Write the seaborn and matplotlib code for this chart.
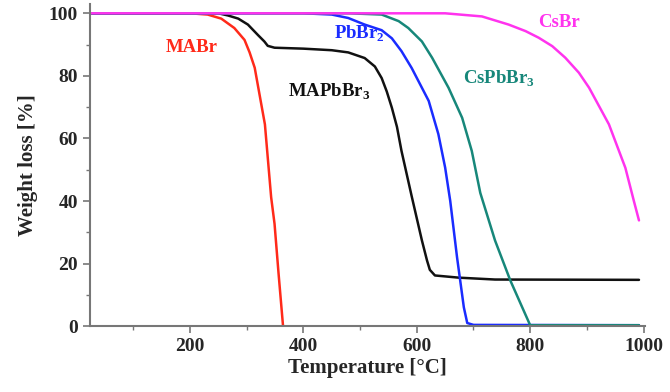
import numpy as np
import pandas as pd
import matplotlib
matplotlib.use("Agg")
import matplotlib.pyplot as plt
from matplotlib.ticker import MultipleLocator
import seaborn as sns

# TGA curves
mabr_t = [25, 200, 231, 255, 278, 296, 305, 314, 332, 343, 349, 356, 364]
mabr_w = [100, 100, 99.6, 98.3, 95.3, 91.5, 87.5, 82.6, 64.5, 41.2, 32.7, 17.0, 0]

mapbbr3_t = [25, 250, 267, 285, 302, 320, 331, 337, 349, 400, 450, 479, 508, 526, 538,
             547, 556, 565, 573, 591, 609, 618, 623, 632, 674, 738, 992]
mapbbr3_w = [100, 100, 99.3, 98.3, 96.4, 93.0, 91.0, 89.6, 89.0, 88.7, 88.2, 87.5,
             85.7, 83.0, 79.3, 75.0, 69.8, 63.7, 56.0, 41.5, 27.4, 21.0, 18.0, 16.2,
             15.5, 14.9, 14.8]

pbbr2_t = [25, 400, 450, 479, 508, 538, 556, 573, 591, 621, 638, 650, 659, 671, 683,
           689, 700, 992]
pbbr2_w = [100, 100, 99.6, 98.5, 96.4, 94.6, 92.0, 87.9, 82.5, 72.0, 61.4, 50.7, 40.0,
           22.0, 6.0, 1.0, 0.4, 0.3]

cspbbr3_t = [25, 480, 538, 568, 585, 609, 627, 656, 680, 697, 712, 738, 765, 800, 992]
cspbbr3_w = [100, 100, 99.6, 97.5, 95.3, 91.0, 85.8, 76.2, 66.6, 56.0, 42.6, 27.4,
             14.6, 0.3, 0.3]

csbr_t = [25, 650, 715, 762, 792, 815, 839, 862, 886, 904, 939, 968, 983, 992]
csbr_w = [100, 100, 99.0, 96.4, 94.3, 92.2, 89.5, 85.8, 81.0, 76.2, 64.5, 50.6, 40.0,
          33.8]

names = ["MABr", "MAPbBr3", "PbBr2", "CsPbBr3", "CsBr"]
colors = ["#ff2a1a", "#111111", "#1a2cff", "#17877a", "#ff33ee"]

frames = []
for name, t, w in zip(names,
                      [mabr_t, mapbbr3_t, pbbr2_t, cspbbr3_t, csbr_t],
                      [mabr_w, mapbbr3_w, pbbr2_w, cspbbr3_w, csbr_w]):
    frames.append(pd.DataFrame({"T": t, "W": w, "sample": name}))
df = pd.concat(frames, ignore_index=True)

sns.set_style("ticks")
plt.rcParams["font.family"] = ["Liberation Serif", "DejaVu Serif"]
plt.rcParams["mathtext.fontset"] = "custom"
plt.rcParams["mathtext.rm"] = "Liberation Serif:bold"
plt.rcParams["mathtext.bf"] = "Liberation Serif:bold"

fig = plt.figure(figsize=(6.7, 3.92), dpi=100)
ax = fig.add_axes([0.134, 0.168, 0.829, 0.822])

sns.lineplot(data=df, x="T", y="W", hue="sample", palette=dict(zip(names, colors)),
             sort=False, estimator=None, lw=1.8, legend=False, ax=ax)

ax.set_xlim(23, 1003)
ax.set_ylim(0, 103)
ax.set_xticks([200, 400, 600, 800, 1000])
ax.set_yticks([0, 20, 40, 60, 80, 100])
ax.xaxis.set_minor_locator(MultipleLocator(100))
ax.yaxis.set_minor_locator(MultipleLocator(10))
ax.tick_params(which="major", length=5, width=1.2, color="#777777", labelsize=14)
ax.tick_params(which="minor", length=3, width=1.0, color="#777777")
for lab in ax.get_xticklabels() + ax.get_yticklabels():
    lab.set_fontweight("bold")
sns.despine(ax=ax)
for s in ["left", "bottom"]:
    ax.spines[s].set_color("#777777")
    ax.spines[s].set_linewidth(1.5)

ax.set_xlabel("Temperature [°C]", fontsize=15, fontweight="bold", labelpad=2)
ax.set_ylabel("Weight loss [%]", fontsize=15, fontweight="bold", labelpad=8)

lab_kw = dict(fontsize=13.5, fontweight="bold", ha="center", va="center")
ax.text(202, 89, "MABr", color=colors[0], **lab_kw)
ax.text(445, 75, r"MAPbBr$_3$", color=colors[1], **lab_kw)
ax.text(498, 93.5, r"PbBr$_2$", color=colors[2], **lab_kw)
ax.text(745, 79, r"CsPbBr$_3$", color=colors[3], **lab_kw)
ax.text(851, 97, "CsBr", color=colors[4], **lab_kw)

fig.savefig("out.png", dpi=100)
